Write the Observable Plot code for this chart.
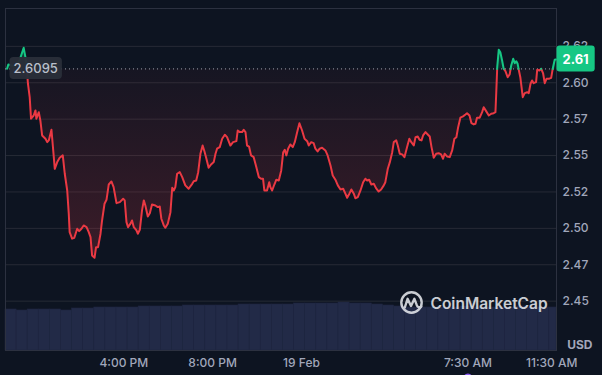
<!DOCTYPE html>
<html>
<head>
<meta charset="utf-8">
<script src="https://cdn.jsdelivr.net/npm/d3@7"></script>
<script src="https://cdn.jsdelivr.net/npm/@observablehq/plot@0.6"></script>
<style>
  html, body { margin: 0; padding: 0; background: #0d1421; }
  #wrap { position: relative; width: 602px; height: 375px; overflow: hidden; background: #0d1421; }
  #vol, #price, #wm { position: absolute; left: 0; top: 0; }
  svg { overflow: visible; }
</style>
</head>
<body>
<div id="wrap">
  <div id="vol"></div>
  <div id="price"></div>
  <svg id="wm" width="602" height="375" style="pointer-events:none">
    <g opacity="0.88" fill="none" stroke="#e4e6eb" stroke-width="2.4" stroke-linecap="round" stroke-linejoin="round">
      <circle cx="411.5" cy="302.5" r="10.2"></circle>
      <path d="M404.8,307.5 L407.6,298.8 L411,306 L414.4,298.8 L416.8,305.2 Q418.2,308.6 421.3,306.4"></path>
    </g>
    <text x="430.5" y="308.6" fill="#e4e6eb" opacity="0.88" font-family="Inter, sans-serif" font-weight="600" font-size="15.5">CoinMarketCap</text>
  </svg>
</div>
<script>
// ---------------- data ----------------
const BASELINE = 2.6095; // opening price (dotted line)

// hours relative to 19 Feb 00:00
const hours = [
  -13.26,-13.20,-12.93,-12.70,-12.51,-12.39,-12.32,-12.24,-12.18,-12.06,-11.98,-11.94,-11.83,-11.76,-11.68,-11.53,-11.45,-11.38,-11.26,-11.18,
  -11.11,-11.00,-10.89,-10.75,-10.66,-10.55,-10.48,-10.44,-10.33,-10.23,-10.10,-10.01,-9.91,-9.81,-9.68,-9.58,-9.50,-9.43,-9.32,-9.25,
  -9.16,-9.05,-8.98,-8.87,-8.78,-8.68,-8.56,-8.46,-8.33,-8.18,-8.03,-7.96,-7.88,-7.81,-7.70,-7.63,-7.55,-7.43,-7.37,-7.28,
  -7.18,-7.10,-7.03,-6.92,-6.83,-6.73,-6.58,-6.47,-6.38,-6.31,-6.20,-6.13,-6.02,-5.90,-5.82,-5.75,-5.68,-5.60,-5.48,-5.37,
  -5.23,-5.08,-4.92,-4.85,-4.74,-4.65,-4.55,-4.45,-4.37,-4.28,-4.18,-4.07,-3.95,-3.87,-3.80,-3.68,-3.57,-3.45,-3.35,-3.20,
  -3.08,-2.93,-2.87,-2.78,-2.67,-2.60,-2.52,-2.45,-2.36,-2.27,-2.15,-2.03,-1.92,-1.82,-1.73,-1.67,-1.55,-1.45,-1.40,-1.32,
  -1.22,-1.13,-1.02,-0.91,-0.82,-0.75,-0.68,-0.60,-0.50,-0.39,-0.30,-0.19,-0.09,0.03,0.14,0.26,0.33,0.44,0.55,0.63,
  0.73,0.82,0.93,1.08,1.18,1.31,1.41,1.53,1.64,1.76,1.88,1.98,2.06,2.16,2.25,2.36,2.43,2.54,2.66,2.78,
  2.88,2.96,3.05,3.15,3.26,3.36,3.48,3.59,3.71,3.78,3.89,3.98,4.09,4.16,4.27,4.34,4.43,4.54,4.64,4.76,
  4.86,4.95,5.06,5.14,5.24,5.32,5.41,5.48,5.59,5.69,5.78,5.86,5.96,6.07,6.18,6.29,6.38,6.45,6.56,6.68,
  6.79,6.89,6.98,7.06,7.16,7.28,7.39,7.46,7.57,7.66,7.76,7.84,7.91,8.03,8.14,8.21,8.32,8.44,8.55,8.66,
  8.74,8.78,8.82,8.89,8.96,9.04,9.11,9.19,9.29,9.38,9.45,9.54,9.61,9.68,9.74,9.79,9.86,9.97,10.06,10.17,
  10.24,10.32,10.39,10.46,10.57,10.62,10.72,10.80,10.89,10.96,11.04,11.14,11.25,11.32,11.41,11.46
];
const prices = [
  2.6096,2.6126,2.6112,2.6153,2.6240,2.6139,2.5995,2.5901,2.5753,2.5775,2.5810,2.5753,2.5798,2.5741,2.5638,2.5615,2.5592,2.5604,2.5677,2.5535,
  2.5409,2.5455,2.5485,2.5501,2.5375,2.5260,2.5100,2.4974,2.4929,2.4935,2.4997,2.4981,2.4997,2.5020,2.5008,2.4974,2.4940,2.4814,2.4798,2.4871,
  2.4871,2.4963,2.5054,2.5169,2.5196,2.5301,2.5322,2.5283,2.5173,2.5180,2.5203,2.5192,2.5043,2.5008,2.5032,2.5054,2.5008,2.4986,2.4963,2.4990,
  2.5123,2.5192,2.5157,2.5082,2.5104,2.5164,2.5157,2.5146,2.5150,2.5066,2.5020,2.5004,2.5032,2.5111,2.5279,2.5260,2.5283,2.5375,2.5386,2.5352,
  2.5295,2.5272,2.5306,2.5324,2.5329,2.5386,2.5512,2.5569,2.5530,2.5478,2.5416,2.5439,2.5455,2.5512,2.5547,2.5558,2.5615,2.5643,2.5626,2.5569,
  2.5592,2.5599,2.5672,2.5661,2.5661,2.5677,2.5661,2.5569,2.5562,2.5501,2.5489,2.5420,2.5352,2.5341,2.5341,2.5260,2.5260,2.5317,2.5283,2.5260,
  2.5301,2.5334,2.5329,2.5398,2.5523,2.5540,2.5501,2.5547,2.5576,2.5558,2.5592,2.5661,2.5722,2.5672,2.5615,2.5599,2.5569,2.5592,2.5585,2.5547,
  2.5528,2.5547,2.5554,2.5535,2.5501,2.5432,2.5363,2.5334,2.5295,2.5267,2.5272,2.5238,2.5210,2.5238,2.5267,2.5238,2.5207,2.5214,2.5260,2.5317,
  2.5341,2.5329,2.5334,2.5301,2.5306,2.5276,2.5253,2.5267,2.5295,2.5317,2.5409,2.5453,2.5523,2.5592,2.5604,2.5569,2.5512,2.5508,2.5489,2.5558,
  2.5615,2.5592,2.5569,2.5626,2.5631,2.5608,2.5604,2.5638,2.5661,2.5645,2.5631,2.5558,2.5485,2.5512,2.5516,2.5508,2.5478,2.5512,2.5494,2.5489,
  2.5535,2.5615,2.5626,2.5695,2.5760,2.5769,2.5782,2.5791,2.5775,2.5722,2.5714,2.5718,2.5760,2.5760,2.5798,2.5832,2.5805,2.5775,2.5787,2.5791,
  2.5798,2.5947,2.6107,2.6227,2.6210,2.6153,2.6096,2.6080,2.6038,2.6057,2.6119,2.6165,2.6135,2.6148,2.6130,2.6089,2.6038,2.5901,2.5929,2.5935,
  2.5929,2.5993,2.6016,2.5997,2.6004,2.6089,2.6084,2.6096,2.6062,2.5997,2.6027,2.6027,2.6034,2.6096,2.6158,2.6160
];

// volume bars (half-hour buckets, start hour) and relative volume
const volHours = [
  -13.33,-12.83,-12.33,-11.83,-11.33,-10.83,-10.33,-9.83,-9.33,-8.83,-8.33,-7.83,-7.33,-6.83,-6.33,-5.83,-5.33,-4.83,-4.33,-3.83,
  -3.33,-2.83,-2.33,-1.83,-1.33,-0.83,-0.33,0.17,0.67,1.17,1.67,2.17,2.67,3.17,3.67,4.17,4.67,5.17,5.67,6.17,
  6.67,7.17,7.67,8.17,8.67,9.17,9.67,10.17,10.67,11.17
];
const volumes = [
  41,40,41,41,41,40,42,42,43,43,43,43,44,44,44,44,45,45,45,45,
  45,46,46,46,46,46,47,47,47,47,48,47,47,46,45,44,43,43,43,43,
  43,44,43,43,43,43,44,43,43,43
];

const yTicks = [2.625, 2.6, 2.575, 2.55, 2.525, 2.5, 2.475, 2.45];
const yTickLabels = ["2.62","2.60","2.57","2.55","2.52","2.50","2.47","2.45"];
const xTicks = [-8, -4, 0, 7.5, 11.5];
const xTickLabels = ["4:00 PM","8:00 PM","19 Feb","7:30 AM","11:30 AM"];
const eventHours = [7.5];

const X_DOMAIN = [-13.33, 11.49];
const Y_DOMAIN = [2.4161, 2.651];

const RED = "#ea3943", GREEN = "#16c784", MUTED = "#a1a7bb", GRID = "#262a36";

// -------------- derived tables --------------
const pts = hours.map((h, i) => ({h, p: prices[i]}));
const split = [];
let seg = 0, up = pts[0].p >= BASELINE;
split.push({...pts[0], seg, up});
for (let i = 1; i < pts.length; i++) {
  const a = pts[i - 1], b = pts[i], bu = b.p >= BASELINE;
  if (bu !== up) {
    const t = (BASELINE - a.p) / (b.p - a.p);
    const hc = a.h + t * (b.h - a.h);
    split.push({h: hc, p: BASELINE, seg, up});
    seg++; up = bu;
    split.push({h: hc, p: BASELINE, seg, up});
  }
  split.push({...b, seg, up});
}
const volData = volHours.map((h, i) => ({
  x1: h,
  x2: i < volHours.length - 1 ? volHours[i + 1] : X_DOMAIN[1],
  v: volumes[i]
}));
const yLabelMap = new Map(yTicks.map((t, i) => [t, yTickLabels[i]]));
const xLabelMap = new Map(xTicks.map((t, i) => [t, xTickLabels[i]]));
const last = pts[pts.length - 1];
const lastLabel = (Math.floor(last.p * 100) / 100).toFixed(2);

const common = {
  width: 602, height: 375,
  marginLeft: 5, marginRight: 46, marginBottom: 25,
  x: {domain: X_DOMAIN, axis: null},
  style: {background: "transparent", color: MUTED, fontFamily: "Inter, sans-serif", fontSize: "12px"}
};

// -------------- volume layer --------------
const volPlot = Plot.plot({
  ...common,
  marginTop: 300,
  y: {domain: [0, 50], axis: null},
  marks: [
    Plot.rect(volData, {x1: "x1", x2: "x2", y1: () => 0, y2: "v", fill: "#222a47", stroke: "#1f2641", strokeWidth: 0.6})
  ]
});
document.getElementById("vol").appendChild(volPlot);

// -------------- price layer --------------
const pricePlot = Plot.plot({
  ...common,
  marginTop: 8,
  y: {domain: Y_DOMAIN, axis: null},
  marks: [
    Plot.ruleY(yTicks, {stroke: GRID, strokeWidth: 1}),
    Plot.frame({stroke: "#2c3140"}),
    Plot.areaY(split, {x: "h", y1: () => BASELINE, y2: d => Math.min(d.p, BASELINE), fill: "url(#redFade)"}),
    Plot.areaY(split, {x: "h", y1: () => BASELINE, y2: d => Math.max(d.p, BASELINE), fill: "url(#greenFade)"}),
    Plot.ruleY([BASELINE], {stroke: "#9aa0ad", strokeWidth: 1, strokeDasharray: "1,3"}),
    Plot.line(split.filter(d => !d.up), {x: "h", y: "p", z: "seg", stroke: RED, strokeWidth: 2, strokeLinejoin: "round"}),
    Plot.line(split.filter(d => d.up), {x: "h", y: "p", z: "seg", stroke: GREEN, strokeWidth: 2, strokeLinejoin: "round"}),
    Plot.text(yTicks, {y: d => d, frameAnchor: "right", textAnchor: "start", dx: 6, text: d => yLabelMap.get(d), fill: MUTED, fontWeight: 500, fontSize: 12}),
    Plot.text(xTicks.slice(0, 4), {x: d => d, frameAnchor: "bottom", dy: 16, text: d => xLabelMap.get(d), fill: MUTED, fontWeight: 500, fontSize: 12}),
    Plot.text(xTicks.slice(4), {x: d => d, frameAnchor: "bottom", dy: 16, dx: -5, text: d => xLabelMap.get(d), fill: MUTED, fontWeight: 500, fontSize: 12}),
    Plot.text(["USD"], {frameAnchor: "bottom-right", textAnchor: "end", dx: 36, dy: -2, text: d => d, fill: MUTED, fontWeight: 700, fontSize: 12}),
    Plot.dot(eventHours, {x: d => d, frameAnchor: "bottom", dy: 27, r: 4, fill: "#8b5cf6"}),
    Plot.text([BASELINE], {x: () => X_DOMAIN[0], y: d => d, textAnchor: "start", dx: 8, text: d => d.toFixed(4), fill: "#b9bfca", fontWeight: 500, fontSize: 13}),
    Plot.text([last], {x: () => X_DOMAIN[1], y: d => d.p, textAnchor: "start", dx: 6, text: () => lastLabel, fill: "#ffffff", fontWeight: 700, fontSize: 13})
  ]
});
document.getElementById("price").appendChild(pricePlot);

// gradients
const defs = d3.select(pricePlot).insert("defs", ":first-child");
const rg = defs.append("linearGradient").attr("id", "redFade").attr("x1", 0).attr("y1", 0).attr("x2", 0).attr("y2", 1);
rg.append("stop").attr("offset", "0%").attr("stop-color", RED).attr("stop-opacity", 0.04);
rg.append("stop").attr("offset", "100%").attr("stop-color", RED).attr("stop-opacity", 0.21);
const gg = defs.append("linearGradient").attr("id", "greenFade").attr("x1", 0).attr("y1", 0).attr("x2", 0).attr("y2", 1);
gg.append("stop").attr("offset", "0%").attr("stop-color", GREEN).attr("stop-opacity", 0.3);
gg.append("stop").attr("offset", "100%").attr("stop-color", GREEN).attr("stop-opacity", 0.12);

// label boxes behind the price labels
function boxBehind(content, fill, padX, padY, rx, opacity) {
  const t = Array.from(pricePlot.querySelectorAll("text")).find(e => e.textContent === content);
  if (!t) return;
  const b = t.getBBox();
  const r = document.createElementNS("http://www.w3.org/2000/svg", "rect");
  r.setAttribute("x", b.x - padX);
  r.setAttribute("y", b.y - padY);
  r.setAttribute("width", b.width + 2 * padX);
  r.setAttribute("height", b.height + 2 * padY);
  r.setAttribute("rx", rx);
  r.setAttribute("fill", fill);
  r.setAttribute("fill-opacity", opacity);
  const tr = t.getAttribute("transform");
  if (tr) r.setAttribute("transform", tr);
  t.parentNode.insertBefore(r, t);
}
boxBehind(BASELINE.toFixed(4), "#292e39", 4, 3, 4, 0.97);
boxBehind(lastLabel, GREEN, 6, 5, 3, 1);
</script>
</body>
</html>
